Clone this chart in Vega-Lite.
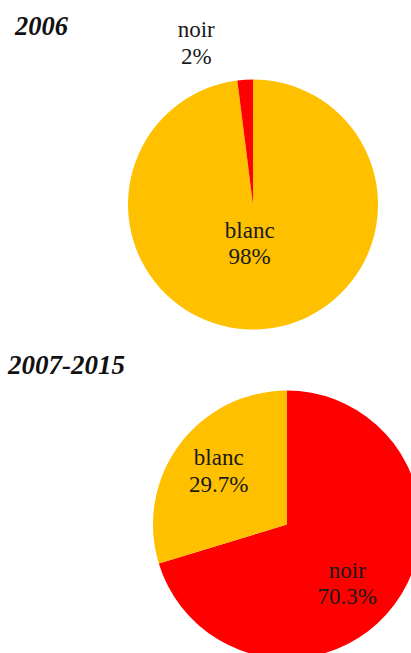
{
  "$schema": "https://vega.github.io/schema/vega-lite/v6.json",
  "padding": {"top": 14, "left": 0, "right": 0, "bottom": 0},
  "spacing": 21,
  "bounds": "flush",
  "background": "white",
  "config": {
    "view": {"stroke": null},
    "title": {"font": "Liberation Serif", "fontSize": 26.5, "fontStyle": "italic", "fontWeight": "bold", "anchor": "start", "frame": "group", "offset": 4, "color": "#111111"}
  },
  "datasets": {
    "parts": [
      {"periode": "2006", "couleur": "blanc", "part": 98, "label": "blanc\n98%"},
      {"periode": "2006", "couleur": "noir", "part": 2, "label": "noir\n2%"},
      {"periode": "2007-2015", "couleur": "noir", "part": 70.3, "label": "noir\n70.3%"},
      {"periode": "2007-2015", "couleur": "blanc", "part": 29.7, "label": "blanc\n29.7%"}
    ]
  },
  "vconcat": [
    {
      "width": 506,
      "height": 317,
      "title": {"text": "2006", "dx": 15, "offset": -22},
      "data": {"name": "parts"},
      "transform": [{"filter": "datum.periode === '2006'"}],
      "layer": [
        {
          "mark": {"type": "arc", "outerRadius": 125},
          "encoding": {
            "theta": {"field": "part", "type": "quantitative", "stack": true},
            "order": {"field": "part", "sort": "descending"},
            "color": {"field": "couleur", "type": "nominal", "scale": {"domain": ["blanc", "noir"], "range": ["#FFC000", "#FF0000"]}, "legend": null}
          }
        },
        {
          "mark": {"type": "text", "radius": 27, "dx": -5, "font": "Liberation Serif", "fontSize": 23, "lineBreak": "\n", "lineHeight": 26, "color": "#1a1a1a"},
          "encoding": {
            "theta": {"field": "part", "type": "quantitative", "stack": true},
            "order": {"field": "part", "sort": "descending"},
            "detail": {"field": "couleur"},
            "text": {"field": "label"},
            "opacity": {"condition": {"test": "datum.couleur === 'blanc'", "value": 1}, "value": 0}
          }
        },
        {
          "mark": {"type": "text", "radius": 140, "dx": -48, "dy": -35, "font": "Liberation Serif", "fontSize": 23, "lineBreak": "\n", "lineHeight": 27, "color": "#1a1a1a"},
          "encoding": {
            "theta": {"field": "part", "type": "quantitative", "stack": true},
            "order": {"field": "part", "sort": "descending"},
            "detail": {"field": "couleur"},
            "text": {"field": "label"},
            "opacity": {"condition": {"test": "datum.couleur === 'noir'", "value": 1}, "value": 0}
          }
        }
      ]
    },
    {
      "width": 574,
      "height": 281,
      "title": {"text": "2007-2015", "dx": 8, "fontSize": 27},
      "data": {"name": "parts"},
      "transform": [{"filter": "datum.periode === '2007-2015'"}],
      "layer": [
        {
          "mark": {"type": "arc", "outerRadius": 134},
          "encoding": {
            "theta": {"field": "part", "type": "quantitative", "stack": true},
            "order": {"field": "part", "sort": "descending"},
            "color": {"field": "couleur", "type": "nominal", "scale": {"domain": ["blanc", "noir"], "range": ["#FFC000", "#FF0000"]}, "legend": null}
          }
        },
        {
          "mark": {"type": "text", "radius": 85, "dy": -16, "font": "Liberation Serif", "fontSize": 23, "lineBreak": "\n", "lineHeight": 27, "color": "#1a1a1a"},
          "encoding": {
            "theta": {"field": "part", "type": "quantitative", "stack": true},
            "order": {"field": "part", "sort": "descending"},
            "detail": {"field": "couleur"},
            "text": {"field": "label"},
            "opacity": {"condition": {"test": "datum.couleur === 'blanc'", "value": 1}, "value": 0}
          }
        },
        {
          "mark": {"type": "text", "radius": 85, "dx": -8, "dy": -4, "font": "Liberation Serif", "fontSize": 23, "lineBreak": "\n", "lineHeight": 26, "color": "#1a1a1a"},
          "encoding": {
            "theta": {"field": "part", "type": "quantitative", "stack": true},
            "order": {"field": "part", "sort": "descending"},
            "detail": {"field": "couleur"},
            "text": {"field": "label"},
            "opacity": {"condition": {"test": "datum.couleur === 'noir'", "value": 1}, "value": 0}
          }
        }
      ]
    }
  ]
}
